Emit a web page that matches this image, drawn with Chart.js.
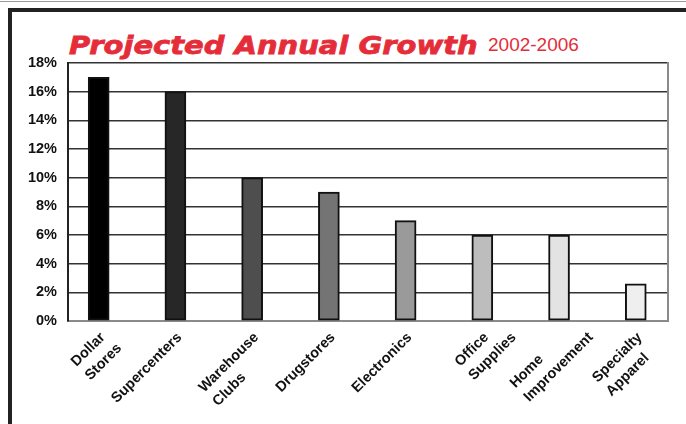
<!DOCTYPE html>
<html>
<head>
<meta charset="utf-8">
<script src="https://cdn.jsdelivr.net/npm/chart.js@4.4.1/dist/chart.umd.min.js"></script>
<style>
  html, body { margin: 0; padding: 0; background: #fff; }
  #wrap { position: relative; width: 686px; height: 424px; overflow: hidden; }
  #frameTop { position: absolute; left: 8px; top: 8px; width: 678px; height: 4px; background: #222; }
  #frameLeft { position: absolute; left: 8px; top: 8px; width: 4px; height: 416px; background: #222; }
  #greyTop { position: absolute; left: 0; top: 1px; width: 686px; height: 1px; background: #999; }
  #title { position: absolute; left: 69px; top: 31px; white-space: nowrap; color: #e52d3a; }
  #main { display: inline-block; font-family: "DejaVu Sans"; font-weight: bold; font-style: italic; font-size: 25px; -webkit-text-stroke: 0.8px #e52d3a; transform-origin: 0 0; }
  #sub { position: absolute; left: 488px; top: 34px; font-family: "Liberation Sans"; font-size: 19px; color: #e52d3a; white-space: nowrap; }
  canvas { position: absolute; left: 0; top: 0; }
</style>
</head>
<body>
<div id="wrap">
  <div id="greyTop"></div>
  <div id="frameTop"></div>
  <div id="frameLeft"></div>
  <div id="title"><span id="main">Projected Annual Growth</span></div>
  <div id="sub">2002-2006</div>
  <canvas id="growthChart" width="686" height="424"></canvas>
</div>
<script>
const categories = [
    ["Dollar", "Stores"],
    "Supercenters",
    ["Warehouse", "Clubs"],
    "Drugstores",
    "Electronics",
    ["Office", "Supplies"],
    ["Home", "Improvement"],
    ["Specialty", "Apparel"]
];
const growth = [17, 16, 10, 9, 7, 6, 6, 2.6];
const barColors = ["#000000", "#272727", "#4e4e4e", "#747474", "#9a9a9a", "#bdbdbd", "#e3e3e3", "#efefef"];
const yTicks = [0, 2, 4, 6, 8, 10, 12, 14, 16, 18];

// squeeze the heavy title into the width it has in the print
const mainTitle = document.getElementById("main");
mainTitle.style.transform = "scaleX(" + (409 / mainTitle.offsetWidth) + ")";

const rightBorder = {
    id: "rightBorder",
    afterDatasetsDraw(chart) {
        const ctx = chart.ctx;
        const area = chart.chartArea;
        ctx.save();
        ctx.strokeStyle = "#8a8a8a";
        ctx.lineWidth = 2;
        ctx.beginPath();
        ctx.moveTo(area.right, area.top - 1);
        ctx.lineTo(area.right, area.bottom + 1);
        ctx.stroke();
        ctx.restore();
    }
};

// category labels: rotated 45deg, lines left aligned, block slid along the
// text so that its highest line end sits just under the axis
const slantedLabels = {
    id: "slantedLabels",
    afterDraw(chart) {
        const ctx = chart.ctx;
        const xScale = chart.scales.x;
        const lineH = 19.5;
        ctx.save();
        ctx.font = 'bold 14.5px "Liberation Sans"';
        ctx.fillStyle = "#111";
        ctx.textBaseline = "top";
        categories.forEach((label, i) => {
            const lines = Array.isArray(label) ? label : [label];
            const widths = lines.map((l) => ctx.measureText(l).width);
            let slide = 0;
            widths.forEach((w, k) => {
                slide = Math.min(slide, k * lineH + widths[0] - w);
            });
            ctx.save();
            ctx.translate(xScale.getPixelForValue(i) - 1, xScale.top + 9);
            ctx.rotate(-Math.PI / 4);
            lines.forEach((line, k) => {
                ctx.fillText(line, -widths[0] + slide, k * lineH);
            });
            ctx.restore();
        });
        ctx.restore();
    }
};

const growthChart = document.getElementById("growthChart").getContext("2d");

new Chart(growthChart, {
    type: "bar",
    data: {
        datasets: [
            {
                label: "Projected Annual Growth",
                data: growth.map((v, i) => ({ x: i, y: v })),
                backgroundColor: barColors,
                borderColor: "#111",
                borderWidth: 2,
                borderSkipped: false,
                barThickness: 21,
            },
        ],
    },
    options: {
        responsive: false,
        animation: false,
        layout: {
            padding: { left: 0, top: 63, right: 18, bottom: 0 },
        },
        plugins: {
            legend: { display: false },
            tooltip: { enabled: false },
        },
        scales: {
            x: {
                type: "linear",
                offset: false,
                min: -0.4,
                max: 7.42,
                afterBuildTicks: (axis) => {
                    axis.ticks = categories.map((c, i) => ({ value: i }));
                },
                afterFit: (axis) => { axis.height = 103; },
                grid: { display: false },
                border: { color: "#8a8a8a", width: 2 },
                ticks: { display: false },
            },
            y: {
                min: 0,
                max: 18,
                afterBuildTicks: (axis) => {
                    axis.ticks = yTicks.map((v) => ({ value: v }));
                },
                afterFit: (axis) => { axis.width = 68; },
                grid: { color: "#333", lineWidth: 1.5, drawTicks: false },
                border: { color: "#222", width: 2 },
                ticks: {
                    padding: 11,
                    color: "#111",
                    font: { family: "Liberation Sans", weight: "bold", size: 14.5 },
                    callback: (v) => v + "%",
                },
            },
        },
    },
    plugins: [rightBorder, slantedLabels],
});
</script>
</body>
</html>
